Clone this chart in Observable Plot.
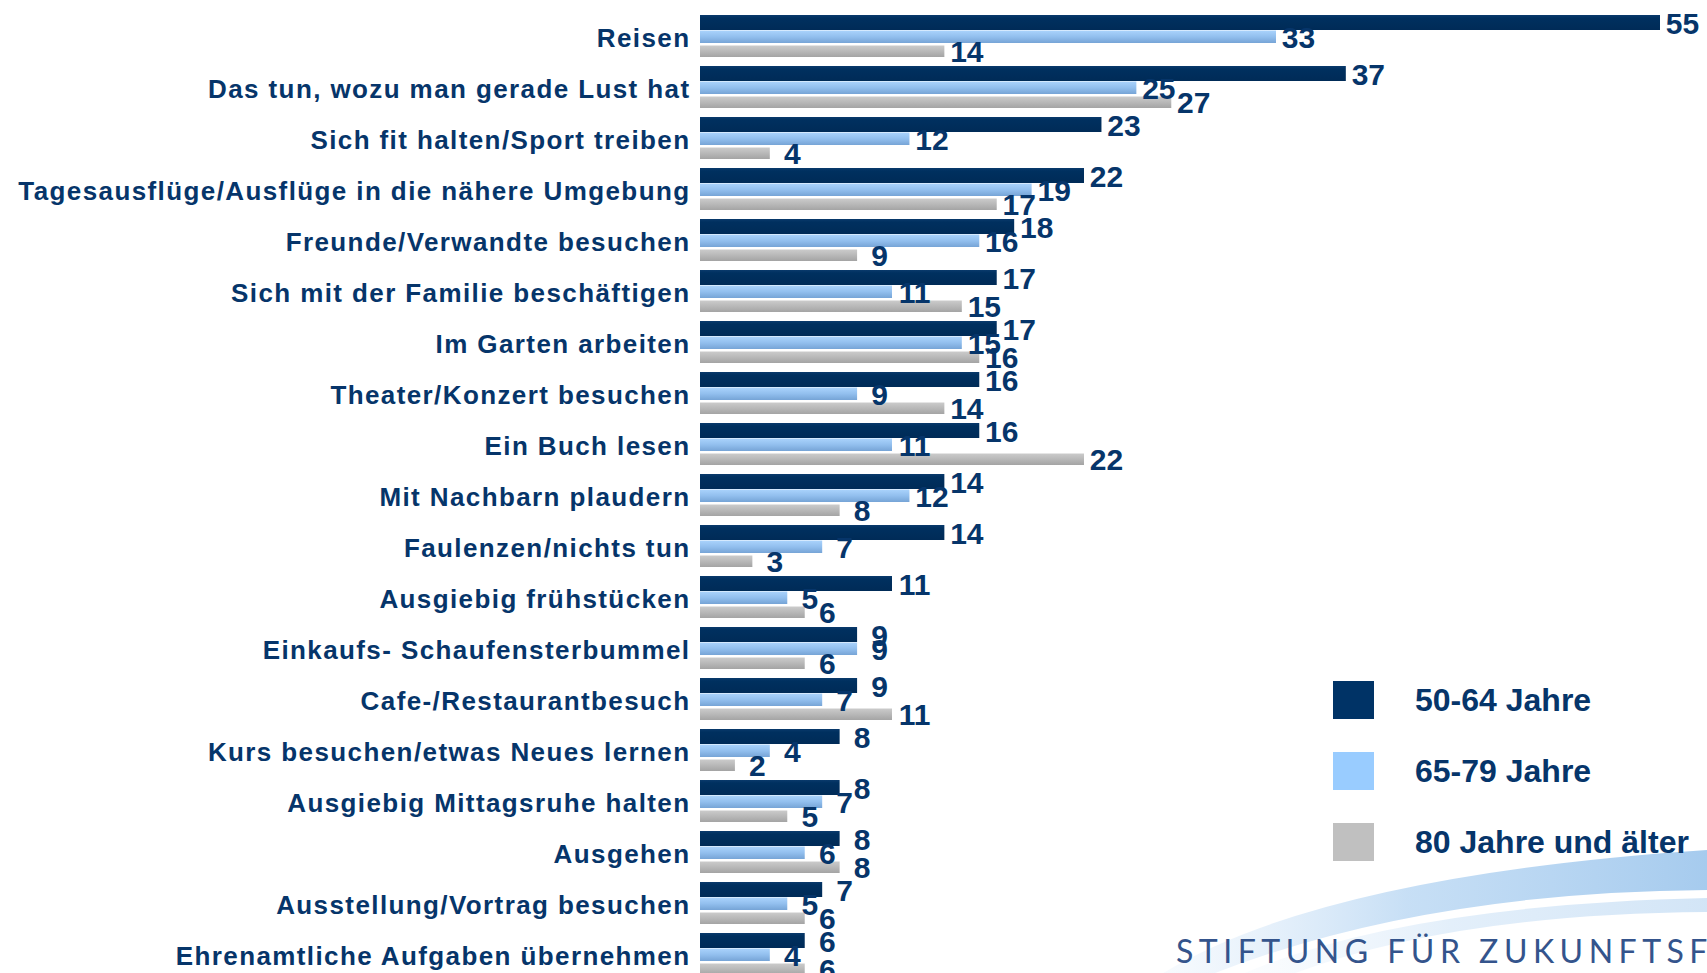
<!DOCTYPE html>
<html><head><meta charset="utf-8">
<script src="https://cdn.jsdelivr.net/npm/d3@7"></script>
<script src="https://cdn.jsdelivr.net/npm/@observablehq/plot@0.6"></script>
<style>
html,body{margin:0;padding:0;background:#fff;overflow:hidden;}
#wrap{position:relative;width:1707px;height:973px;overflow:hidden;}
#chart{position:absolute;left:0;top:0;}
#overlay{position:absolute;left:0;top:0;}
#chart svg g[aria-label="text"] text{letter-spacing:0;}
</style></head><body>
<svg width="0" height="0" style="position:absolute">
<defs>
<linearGradient id="gLight" x1="0" y1="0" x2="0" y2="1">
<stop offset="0" stop-color="#aad3fc"/><stop offset="0.5" stop-color="#92bfee"/><stop offset="1" stop-color="#76a4d6"/>
</linearGradient>
<linearGradient id="gGray" x1="0" y1="0" x2="0" y2="1">
<stop offset="0" stop-color="#cbcbcb"/><stop offset="0.5" stop-color="#b8b8b8"/><stop offset="1" stop-color="#a4a4a4"/>
</linearGradient>
<linearGradient id="gDark" x1="0" y1="0" x2="0" y2="1">
<stop offset="0" stop-color="#0a3a6c"/><stop offset="0.2" stop-color="#00305f"/><stop offset="1" stop-color="#002b57"/>
</linearGradient>
</defs></svg>
<div id="wrap">
<div id="chart"></div>
<svg id="overlay" width="1707" height="973">
<defs>
<linearGradient id="gSwoosh" x1="0" y1="0" x2="1" y2="0">
<stop offset="0" stop-color="#cfe3f7" stop-opacity="0.15"/><stop offset="0.45" stop-color="#b9d7f3" stop-opacity="0.8"/><stop offset="1" stop-color="#a6cbee"/>
</linearGradient>
</defs>
<path d="M1160,975 Q1320,876 1707,850 L1707,890 Q1420,892 1210,975 Z" fill="url(#gSwoosh)"/>
<path d="M1240,975 Q1400,905 1707,898 L1707,912 Q1450,914 1290,975 Z" fill="url(#gSwoosh)" opacity="0.5"/>
<g id="legend" font-family="'Liberation Sans', Arial, sans-serif" font-weight="bold" font-size="32" fill="#06356a"></g>
<text x="1176" y="963" font-family="Lato, 'Open Sans', sans-serif" font-size="32" letter-spacing="5.5" fill="#34548c">STIFTUNG FÜR ZUKUNFTSFRAGEN</text>
</svg>
</div>
<script>
const categories = [
  "Reisen",
  "Das tun, wozu man gerade Lust hat",
  "Sich fit halten/Sport treiben",
  "Tagesausflüge/Ausflüge in die nähere Umgebung",
  "Freunde/Verwandte besuchen",
  "Sich mit der Familie beschäftigen",
  "Im Garten arbeiten",
  "Theater/Konzert besuchen",
  "Ein Buch lesen",
  "Mit Nachbarn plaudern",
  "Faulenzen/nichts tun",
  "Ausgiebig frühstücken",
  "Einkaufs- Schaufensterbummel",
  "Cafe-/Restaurantbesuch",
  "Kurs besuchen/etwas Neues lernen",
  "Ausgiebig Mittagsruhe halten",
  "Ausgehen",
  "Ausstellung/Vortrag besuchen",
  "Ehrenamtliche Aufgaben übernehmen"
];
const series = ["50-64 Jahre", "65-79 Jahre", "80 Jahre und älter"];
const values5064 = [55, 37, 23, 22, 18, 17, 17, 16, 16, 14, 14, 11, 9, 9, 8, 8, 8, 7, 6];
const values6579 = [33, 25, 12, 19, 16, 11, 15, 9, 11, 12, 7, 5, 9, 7, 4, 7, 6, 5, 4];
const values80 = [14, 27, 4, 17, 9, 15, 16, 14, 22, 8, 3, 6, 6, 11, 2, 5, 8, 6, 6];
const barFills = ["url(#gDark)", "url(#gLight)", "url(#gGray)"];
const legendFills = ["#003366", "#99ccff", "#c0c0c0"];
const navy = "#06356a";

const seriesValues = [values5064, values6579, values80];
const data = categories.flatMap((c, i) => series.map((s, k) => ({category: c, series: s, value: seriesValues[k][i]})));
const bySeries = k => data.filter(d => d.series === series[k]);

const plot = Plot.plot({
  width: 1707,
  height: 973,
  marginLeft: 700,
  marginRight: 47,
  marginTop: 0,
  marginBottom: 0,
  style: {fontFamily: "'Liberation Sans', Arial, sans-serif", fontSize: "26px", fontWeight: "bold", color: navy, background: "transparent", letterSpacing: "1.4px", overflow: "visible"},
  x: {domain: [0, 55], axis: null},
  y: {domain: series, axis: null, padding: 0},
  fy: {domain: categories, axis: "left", label: null, tickSize: 0, tickPadding: 10, padding: 0.176, range: [6, 984]},
  marks: [
    Plot.barX(bySeries(0), {x: "value", y: "series", fy: "category", fill: barFills[0], insetTop: 0, insetBottom: -1}),
    Plot.barX(bySeries(1), {x: "value", y: "series", fy: "category", fill: barFills[1], insetTop: 1.5, insetBottom: 0}),
    Plot.barX(bySeries(2), {x: "value", y: "series", fy: "category", fill: barFills[2], insetTop: 2.5, insetBottom: 0}),
    Plot.text(data, {x: "value", y: "series", fy: "category", text: d => String(d.value), dx: 22, dy: 2, textAnchor: "middle", fontSize: 30, fontWeight: "bold", fill: navy})
  ]
});
document.getElementById("chart").appendChild(plot);

// nudge the category labels down to match the reference's baseline
plot.querySelectorAll('g[aria-label^="fy-axis"]').forEach(g => {
  const t = g.getAttribute("transform") || "";
  g.setAttribute("transform", `${t} translate(0,2)`);
});

// legend
const lg = d3.select("#legend");
const legendY = [700, 771, 842];
series.forEach((s, k) => {
  lg.append("rect").attr("x", 1333).attr("y", legendY[k] - 19).attr("width", 41).attr("height", 38).attr("fill", legendFills[k]);
  lg.append("text").attr("x", 1415).attr("y", legendY[k] + 11).text(s);
});
</script>
</body></html>
